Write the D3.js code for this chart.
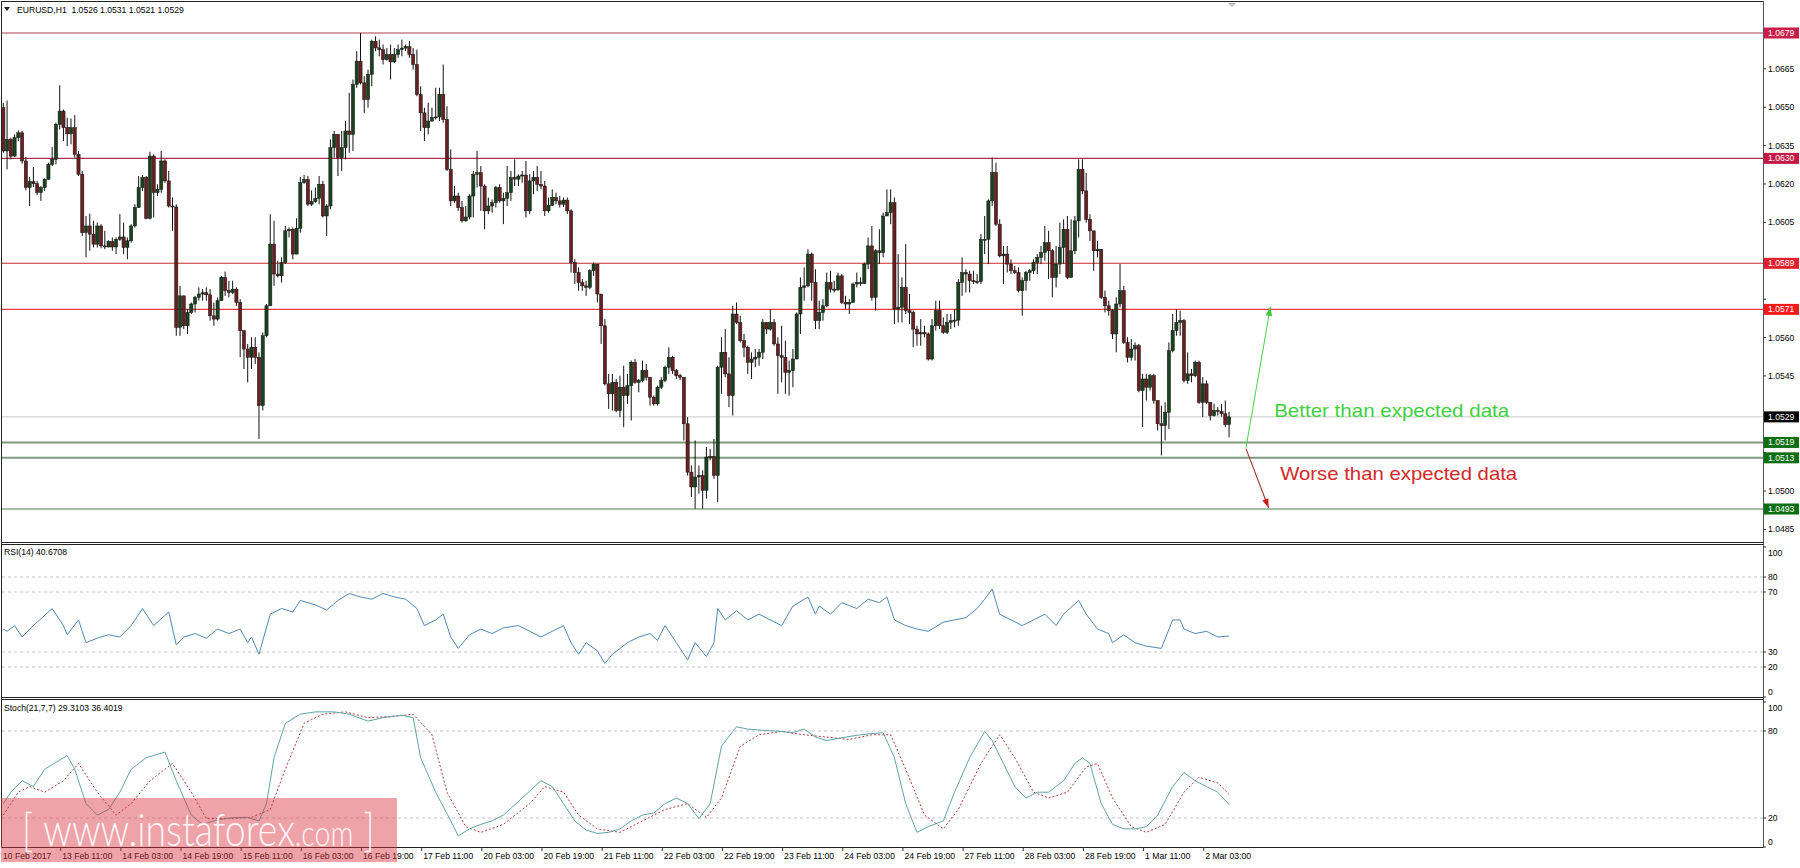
<!DOCTYPE html>
<html><head><meta charset="utf-8">
<script src="https://cdn.jsdelivr.net/npm/d3@7/dist/d3.min.js"></script>
<style>html,body{margin:0;padding:0;background:#fff;overflow:hidden}</style>
</head><body><svg id="c" width="1800" height="868" xmlns="http://www.w3.org/2000/svg"></svg>
<script>
// ---------------- DATA ----------------
const symbolTitle = "EURUSD,H1  1.0526 1.0531 1.0521 1.0529";
const rsiTitle = "RSI(14) 40.6708";
const stochTitle = "Stoch(21,7,7) 29.3103 36.4019";
const firstOpen = 1.06498;
const closes = [1.06329,1.06374,1.06309,1.06381,1.06400,1.06290,1.06186,1.06209,1.06201,1.06166,
1.06186,1.06218,1.06277,1.06296,1.06433,1.06485,1.06420,1.06396,1.06420,1.06316,
1.06238,1.06010,1.06036,1.06004,1.05965,1.06036,1.05958,1.05954,1.05975,1.05954,
1.05984,1.05993,1.05952,1.05978,1.06036,1.06108,1.06186,1.06225,1.06066,1.06309,
1.06166,1.06179,1.06290,1.06212,1.06114,1.06110,1.05640,1.05763,1.05646,1.05698,
1.05731,1.05757,1.05770,1.05775,1.05767,1.05685,1.05672,1.05744,1.05835,1.05783,
1.05776,1.05789,1.05737,1.05627,1.05555,1.05523,1.05562,1.05523,1.05334,1.05607,
1.05724,1.05965,1.05848,1.05841,1.05893,1.06017,1.06023,1.05926,1.06027,1.06205,
1.06218,1.06121,1.06131,1.06144,1.06199,1.06075,1.06114,1.06342,1.06394,1.06303,
1.06342,1.06407,1.06394,1.06589,1.06680,1.06595,1.06530,1.06628,1.06758,1.06732,
1.06725,1.06686,1.06706,1.06677,1.06706,1.06725,1.06731,1.06737,1.06706,1.06667,
1.06550,1.06478,1.06420,1.06446,1.06459,1.06462,1.06550,1.06452,1.06257,1.06134,
1.06153,1.06108,1.06056,1.06071,1.06153,1.06238,1.06244,1.06192,1.06095,1.06114,
1.06127,1.06186,1.06134,1.06144,1.06166,1.06225,1.06219,1.06231,1.06235,1.06095,
1.06212,1.06225,1.06199,1.06192,1.06095,1.06117,1.06147,1.06134,1.06121,1.06137,
1.06095,1.05893,1.05854,1.05815,1.05802,1.05796,1.05861,1.05887,1.05770,1.05646,
1.05419,1.05380,1.05425,1.05315,1.05406,1.05373,1.05412,1.05503,1.05425,1.05432,
1.05471,1.05445,1.05367,1.05341,1.05406,1.05432,1.05484,1.05523,1.05471,1.05451,
1.05445,1.05263,1.05074,1.05016,1.05055,1.05061,1.05003,1.05133,1.05135,1.05061,
1.05484,1.05542,1.05458,1.05373,1.05692,1.05659,1.05588,1.05562,1.05503,1.05516,
1.05523,1.05542,1.05659,1.05633,1.05659,1.05575,1.05529,1.05523,1.05464,1.05471,
1.05516,1.05692,1.05796,1.05802,1.05926,1.05815,1.05666,1.05698,1.05724,1.05815,
1.05789,1.05786,1.05841,1.05737,1.05731,1.05737,1.05809,1.05815,1.05811,1.05887,
1.05958,1.05757,1.05939,1.05932,1.06075,1.06088,1.06127,1.05711,1.05718,1.05796,
1.05705,1.05698,1.05633,1.05614,1.05620,1.05614,1.05516,1.05646,1.05705,1.05646,
1.05620,1.05659,1.05666,1.05668,1.05815,1.05854,1.05848,1.05822,1.05818,1.05819,
1.05984,1.05984,1.06134,1.06244,1.06043,1.05919,1.05926,1.05887,1.05861,1.05854,
1.05783,1.05822,1.05854,1.05861,1.05893,1.05913,1.05932,1.05971,1.05939,1.05835,
1.05887,1.05952,1.06023,1.05835,1.05939,1.06056,1.06257,1.06173,1.06062,1.06017,
1.05939,1.05945,1.05757,1.05724,1.05705,1.05614,1.05731,1.05783,1.05581,1.05523,
1.05555,1.05568,1.05393,1.05438,1.05406,1.05451,1.05354,1.05263,1.05256,1.05308,
1.05549,1.05627,1.05659,1.05666,1.05432,1.05458,1.05451,1.05503,1.05347,1.05419,
1.05347,1.05295,1.05315,1.05311,1.05302,1.05260,1.05290];
const highs = [1.06517,1.06526,1.06381,1.06394,1.06409,1.06407,1.06305,1.06227,1.06266,1.06212,
1.06192,1.06222,1.06283,1.06344,1.06439,1.06586,1.06491,1.06459,1.06456,1.06469,
1.06329,1.06251,1.06075,1.06084,1.06056,1.06049,1.06043,1.06017,1.05980,1.05991,
1.05991,1.06082,1.06049,1.05991,1.06043,1.06121,1.06231,1.06235,1.06231,1.06326,
1.06316,1.06199,1.06329,1.06296,1.06251,1.06147,1.06121,1.05802,1.05763,1.05711,
1.05737,1.05763,1.05796,1.05789,1.05796,1.05789,1.05737,1.05757,1.05841,1.05858,
1.05822,1.05822,1.05796,1.05750,1.05627,1.05575,1.05601,1.05601,1.05542,1.05620,
1.05731,1.06082,1.06056,1.05900,1.05913,1.06036,1.06030,1.06030,1.06066,1.06227,
1.06235,1.06231,1.06175,1.06186,1.06231,1.06212,1.06121,1.06374,1.06407,1.06394,
1.06407,1.06446,1.06556,1.06608,1.06719,1.06790,1.06621,1.06647,1.06764,1.06777,
1.06764,1.06745,1.06731,1.06745,1.06731,1.06745,1.06764,1.06745,1.06758,1.06731,
1.06725,1.06582,1.06498,1.06517,1.06498,1.06576,1.06576,1.06667,1.06504,1.06335,
1.06192,1.06166,1.06134,1.06114,1.06160,1.06251,1.06329,1.06270,1.06199,1.06147,
1.06140,1.06192,1.06199,1.06166,1.06270,1.06251,1.06296,1.06238,1.06251,1.06290,
1.06238,1.06251,1.06270,1.06251,1.06212,1.06147,1.06179,1.06166,1.06153,1.06147,
1.06147,1.06101,1.05906,1.05874,1.05828,1.05822,1.05867,1.05893,1.05887,1.05770,
1.05672,1.05458,1.05458,1.05438,1.05451,1.05490,1.05458,1.05510,1.05516,1.05438,
1.05510,1.05497,1.05445,1.05373,1.05412,1.05445,1.05490,1.05562,1.05529,1.05477,
1.05458,1.05445,1.05289,1.05100,1.05198,1.05100,1.05081,1.05172,1.05165,1.05204,
1.05490,1.05601,1.05633,1.05523,1.05724,1.05737,1.05685,1.05614,1.05568,1.05542,
1.05555,1.05555,1.05672,1.05659,1.05711,1.05672,1.05601,1.05646,1.05588,1.05510,
1.05555,1.05698,1.05835,1.05874,1.05945,1.05932,1.05867,1.05744,1.05750,1.05854,
1.05861,1.05822,1.05854,1.05848,1.05763,1.05750,1.05815,1.05854,1.05835,1.05893,
1.05991,1.06036,1.05945,1.06023,1.06088,1.06179,1.06179,1.06147,1.05926,1.05835,
1.05965,1.05770,1.05705,1.05646,1.05672,1.05646,1.05620,1.05672,1.05744,1.05744,
1.05679,1.05692,1.05692,1.05711,1.05828,1.05913,1.05867,1.05861,1.05861,1.05848,
1.06004,1.06075,1.06140,1.06303,1.06283,1.06062,1.05958,1.05958,1.05906,1.05880,
1.05874,1.05835,1.05861,1.05867,1.05906,1.05926,1.05958,1.06036,1.06017,1.05945,
1.05958,1.06049,1.06062,1.06075,1.06062,1.06075,1.06296,1.06296,1.06244,1.06082,
1.06017,1.05978,1.05945,1.05783,1.05744,1.05711,1.05757,1.05887,1.05802,1.05601,
1.05594,1.05581,1.05575,1.05458,1.05458,1.05458,1.05458,1.05354,1.05334,1.05347,
1.05581,1.05692,1.05711,1.05705,1.05672,1.05542,1.05477,1.05510,1.05510,1.05445,
1.05432,1.05347,1.05341,1.05328,1.05341,1.05354,1.05310];
const lows = [1.06322,1.06257,1.06296,1.06305,1.06368,1.06279,1.06175,1.06114,1.06188,1.06157,
1.06134,1.06173,1.06218,1.06270,1.06277,1.06413,1.06368,1.06348,1.06355,1.06303,
1.06231,1.05997,1.05913,1.05939,1.05952,1.05952,1.05949,1.05945,1.05952,1.05939,
1.05926,1.05978,1.05926,1.05906,1.05971,1.06030,1.06108,1.06173,1.06062,1.06062,
1.06069,1.06153,1.06166,1.06205,1.06108,1.06017,1.05607,1.05607,1.05633,1.05614,
1.05692,1.05698,1.05744,1.05744,1.05744,1.05666,1.05646,1.05666,1.05744,1.05763,
1.05757,1.05770,1.05724,1.05523,1.05477,1.05425,1.05477,1.05497,1.05204,1.05315,
1.05601,1.05724,1.05802,1.05835,1.05815,1.05887,1.05991,1.05906,1.05926,1.06010,
1.06201,1.06114,1.06114,1.06127,1.06121,1.06069,1.05997,1.06101,1.06303,1.06231,
1.06251,1.06296,1.06322,1.06329,1.06576,1.06589,1.06478,1.06498,1.06582,1.06719,
1.06699,1.06667,1.06682,1.06608,1.06673,1.06693,1.06699,1.06719,1.06693,1.06647,
1.06543,1.06407,1.06368,1.06394,1.06443,1.06452,1.06446,1.06439,1.06251,1.06114,
1.06127,1.06095,1.06049,1.06053,1.06062,1.06069,1.06186,1.06095,1.06023,1.06082,
1.06088,1.06108,1.06127,1.06043,1.06114,1.06134,1.06192,1.06192,1.06205,1.06069,
1.06082,1.06160,1.06173,1.06179,1.06075,1.06088,1.06114,1.06121,1.06108,1.06110,
1.06082,1.05854,1.05809,1.05783,1.05783,1.05763,1.05789,1.05841,1.05737,1.05575,
1.05412,1.05321,1.05315,1.05308,1.05289,1.05250,1.05341,1.05276,1.05419,1.05386,
1.05425,1.05432,1.05334,1.05334,1.05334,1.05399,1.05425,1.05458,1.05458,1.05438,
1.05434,1.05198,1.05061,1.04977,1.04931,1.04990,1.04931,1.04970,1.05120,1.05048,
1.04957,1.05380,1.05445,1.05328,1.05295,1.05653,1.05581,1.05523,1.05458,1.05438,
1.05484,1.05490,1.05516,1.05614,1.05627,1.05568,1.05380,1.05425,1.05380,1.05373,
1.05406,1.05516,1.05614,1.05744,1.05796,1.05744,1.05633,1.05633,1.05666,1.05718,
1.05776,1.05776,1.05783,1.05731,1.05711,1.05692,1.05737,1.05796,1.05802,1.05809,
1.05867,1.05744,1.05705,1.05887,1.05913,1.06075,1.06043,1.05653,1.05659,1.05659,
1.05692,1.05653,1.05562,1.05568,1.05568,1.05601,1.05510,1.05510,1.05627,1.05633,
1.05614,1.05614,1.05633,1.05640,1.05646,1.05763,1.05776,1.05776,1.05809,1.05809,
1.05809,1.05926,1.05887,1.06114,1.06036,1.05913,1.05809,1.05854,1.05848,1.05848,
1.05776,1.05685,1.05783,1.05822,1.05848,1.05848,1.05887,1.05900,1.05828,1.05757,
1.05796,1.05848,1.05887,1.05828,1.05835,1.05926,1.05991,1.06160,1.06049,1.05978,
1.05861,1.05913,1.05750,1.05698,1.05685,1.05594,1.05542,1.05718,1.05575,1.05503,
1.05510,1.05510,1.05386,1.05250,1.05354,1.05393,1.05341,1.05237,1.05139,1.05198,
1.05243,1.05542,1.05607,1.05607,1.05425,1.05419,1.05425,1.05445,1.05341,1.05289,
1.05341,1.05276,1.05291,1.05295,1.05291,1.05250,1.05210];

const firstTimeLabel = "10 Feb 2017";
const timeLabels = ["13 Feb 11:00","14 Feb 03:00","14 Feb 19:00","15 Feb 11:00","16 Feb 03:00",
"16 Feb 19:00","17 Feb 11:00","20 Feb 03:00","20 Feb 19:00","21 Feb 11:00","22 Feb 03:00",
"22 Feb 19:00","23 Feb 11:00","24 Feb 03:00","24 Feb 19:00","27 Feb 11:00","28 Feb 03:00",
"28 Feb 19:00","1 Mar 11:00","2 Mar 03:00"];
const firstLabelBar = 15, barsPerLabel = 16;

const priceTicks = [1.0485,1.0500,1.0515,1.0530,1.0545,1.0560,1.0575,1.0590,1.0605,1.0620,1.0635,1.0650,1.0665,1.0680];
const resistanceLevels = [1.0679, 1.0630, 1.0589, 1.0571];
const supportLevels = [1.0519, 1.0513, 1.0493];
const lastPrice = 1.0529;

const rsiLevels = [80, 70, 30, 20];
const rsiTickLabels = [100, 80, 70, 30, 20, 0];
const stochLevels = [80, 20];
const stochTickLabels = [100, 80, 20, 0];

const rsiBars = [0,1,3,5,8,13,16,17,20,22,25,28,31,34,37,40,44,46,48,51,54,57,60,63,65,66,68,71,74,77,79,83,86,89,92,95,98,101,104,107,110,112,115,117,119,121,124,127,130,133,137,140,143,146,149,151,153,155,158,160,162,166,169,172,174,176,179,182,184,187,189,190,192,195,198,201,204,207,210,214,216,217,220,223,227,230,233,235,237,240,243,246,250,253,256,259,261,263,265,268,271,274,277,280,282,286,288,291,294,295,298,301,304,308,311,313,314,317,320,323,326];
const rsiValues = [45.3,43.8,47.6,40.0,47.6,59.0,47.6,41.5,51.4,36.2,39.2,41.5,40.0,47.6,59.0,47.6,56.7,34.7,40.0,42.3,39.2,45.3,42.3,45.3,36.2,40.0,28.5,55.2,59.0,56.7,64.4,61.4,58.0,64.4,69.0,66.7,65.2,69.0,66.7,65.2,59.0,47.6,51.4,55.2,40.0,32.4,41.5,45.3,42.3,46.1,47.6,43.8,40.0,43.8,47.6,36.2,28.5,36.2,30.8,22.4,28.5,36.2,40.0,42.3,37.7,47.6,36.2,24.7,36.2,27.0,36.2,59.0,51.4,57.5,51.4,55.2,51.4,47.6,60.6,66.7,55.2,60.6,55.2,62.9,59.0,65.2,62.9,66.7,51.4,47.6,45.3,43.8,49.9,51.4,52.9,59.0,65.2,72.0,55.2,51.4,47.6,51.4,55.2,47.6,55.2,64.4,55.2,45.3,42.3,36.2,41.5,36.2,33.9,32.4,51.4,51.4,45.3,42.3,43.8,40.0,40.67];

const stochBars = [0,2,5,8,11,17,19,22,25,28,31,34,38,43,46,50,53,56,59,62,65,68,70,72,75,79,83,88,92,97,101,106,109,111,115,119,121,124,127,130,133,138,143,146,149,152,155,158,161,164,167,170,173,176,179,182,185,188,191,195,198,202,207,210,213,216,219,224,228,234,237,240,243,246,250,253,257,261,263,266,269,272,275,278,282,285,287,289,292,295,298,301,304,307,311,314,317,320,323,326];
const stochMain = [29.9,37.8,45.7,41.7,53.6,63.1,53.6,29.9,22.0,25.9,37.8,53.6,61.6,65.5,45.7,22.0,15.6,18.0,19.6,20.4,20.4,18.0,29.9,61.6,85.3,91.6,93.2,93.2,91.6,86.8,89.2,90.8,89.2,61.6,37.8,18.0,7.7,12.5,15.6,18.0,22.0,33.8,45.7,41.7,29.9,18.0,11.7,9.3,10.1,12.5,18.0,22.0,23.5,29.9,33.8,29.9,19.6,29.9,69.5,82.9,81.3,80.5,79.7,78.9,81.3,75.8,73.4,75.8,77.4,78.9,61.6,29.9,10.1,14.0,18.0,37.8,61.6,79.7,73.4,57.6,41.7,33.8,37.8,37.8,45.7,57.6,61.6,57.6,29.9,15.6,12.5,12.5,14.0,22.0,41.7,51.3,45.7,41.7,37.8,29.31];
const signalBars = [0,4,7,11,16,20,25,30,34,39,45,50,54,60,66,71,75,80,85,91,97,103,109,114,118,123,127,133,140,144,149,153,158,164,170,176,182,187,191,196,201,207,213,219,225,231,236,240,245,250,254,260,265,269,274,278,283,288,291,295,300,304,309,314,318,323,326];
const stochSignal = [22.0,37.8,41.7,37.8,45.7,57.6,37.8,22.0,29.9,45.7,57.6,37.8,19.6,19.6,20.4,25.9,53.6,85.3,91.6,93.2,89.2,90.0,91.6,77.4,37.8,14.0,10.1,15.6,29.9,41.7,37.8,22.0,12.5,10.1,18.0,25.9,29.9,20.4,33.8,69.5,77.4,79.7,77.4,75.8,74.2,77.4,77.4,53.6,22.0,12.5,25.9,57.6,77.4,61.6,37.8,33.8,37.8,55.2,57.6,33.8,14.0,10.1,15.6,37.8,48.1,44.1,36.40];

const annotations = ["Better than expected data", "Worse than expected data"];
const watermarkParts = ["[ ", "www.instaforex", ".com", " ]"];

// ---------------- DRAW ----------------
const svg = d3.select('#c');
const W = 1800, H = 868, axisX = 1763;
const mainTop = 2, mainBot = 542, rsiTop = 545, rsiBot = 697, stTop = 700, stBot = 847;
const n = closes.length;
const opens = closes.map((c, i) => i === 0 ? firstOpen : closes[i - 1]);

const x = d3.scaleLinear().domain([0, n - 1]).range([3.3, 3.3 + 3.76 * (n - 1)]);
const yP = d3.scaleLinear().domain([1.0493, 1.0679]).range([509, 33]);
const yR = d3.scaleLinear().domain([0, 100]).range([697, 547]);
const yS = d3.scaleLinear().domain([0, 100]).range([847, 702]);

svg.append('rect').attr('width', W).attr('height', H).attr('fill', '#fff');
const defs = svg.append('defs');
[['clipMain', mainTop, mainBot], ['clipRsi', rsiTop, rsiBot], ['clipSt', stTop, stBot]].forEach(([id, t, b]) => {
  defs.append('clipPath').attr('id', id).append('rect').attr('x', 2).attr('y', t).attr('width', axisX - 2).attr('height', b - t);
});
const FONT = '"Liberation Sans", Arial, sans-serif';

// ---- main panel
const gMain = svg.append('g').attr('clip-path', 'url(#clipMain)');
const resColors = ['#b03a55', '#a83048', '#cc2a2a', '#e8393b'];
const supColors = ['#7e9a7e', '#7e9a7e', '#4d7f4d'];
const supWidths = [2, 2, 1.2];
gMain.append('line').attr('x1', 2).attr('x2', axisX).attr('y1', yP(lastPrice)).attr('y2', yP(lastPrice)).attr('stroke', '#c8c8c8').attr('stroke-width', 1);
resistanceLevels.forEach((p, i) => gMain.append('line').attr('x1', 2).attr('x2', axisX).attr('y1', yP(p)).attr('y2', yP(p)).attr('stroke', resColors[i]).attr('stroke-width', 1.1));
supportLevels.forEach((p, i) => gMain.append('line').attr('x1', 2).attr('x2', axisX).attr('y1', yP(p)).attr('y2', yP(p)).attr('stroke', supColors[i]).attr('stroke-width', supWidths[i]));

const idx = d3.range(n);
gMain.append('g').selectAll('line').data(idx).join('line')
  .attr('x1', i => x(i)).attr('x2', i => x(i))
  .attr('y1', i => yP(Math.max(highs[i], opens[i], closes[i])))
  .attr('y2', i => yP(Math.min(lows[i], opens[i], closes[i])))
  .attr('stroke', '#111').attr('stroke-width', 1);
gMain.append('g').selectAll('rect').data(idx).join('rect')
  .attr('x', i => x(i) - 1.6).attr('width', 3.2)
  .attr('y', i => yP(Math.max(opens[i], closes[i])))
  .attr('height', i => Math.max(1, Math.abs(yP(opens[i]) - yP(closes[i]))))
  .attr('fill', i => closes[i] >= opens[i] ? '#1b421e' : '#6a2020')
  .attr('stroke', '#111').attr('stroke-width', 0.5);

// arrows
const arrowStart = { i: n - 1 + 4.5, p: 1.0517 };
const up = { i: n - 1 + 11, p: 1.0572 };
const dn = { i: n - 1 + 10.5, p: 1.04935 };
function arrow(g, x1, y1, x2, y2, color, headColor) {
  g.append('line').attr('x1', x1).attr('y1', y1).attr('x2', x2).attr('y2', y2).attr('stroke', color).attr('stroke-width', 1.1);
  const a = Math.atan2(y2 - y1, x2 - x1), L = 9, w = 3.2;
  const bx = x2 - L * Math.cos(a), by = y2 - L * Math.sin(a);
  const pts = [[x2, y2], [bx + w * Math.sin(a), by - w * Math.cos(a)], [bx - w * Math.sin(a), by + w * Math.cos(a)]];
  g.append('polygon').attr('points', pts.map(p => p.join(',')).join(' ')).attr('fill', headColor);
}
const sx = x(arrowStart.i), sy = yP(arrowStart.p);
arrow(gMain, sx, sy, x(up.i), yP(up.p), '#5ad45a', '#3ec83e');
arrow(gMain, sx, sy + 1, x(dn.i), yP(dn.p), '#9a3a2a', '#d01818');
gMain.append('text').attr('x', x(n - 1 + 12)).attr('y', 417).text(annotations[0])
  .attr('font-family', FONT).attr('font-size', 18.5).attr('fill', '#3fd13f').attr('textLength', 235).attr('lengthAdjust', 'spacingAndGlyphs');
gMain.append('text').attr('x', x(n - 1 + 13.6)).attr('y', 480).text(annotations[1])
  .attr('font-family', FONT).attr('font-size', 18.5).attr('fill', '#d42828').attr('textLength', 237).attr('lengthAdjust', 'spacingAndGlyphs');

// header
svg.append('polygon').attr('points', '4,7 10,7 7,11').attr('fill', '#222');
svg.append('text').attr('x', 17).attr('y', 12.5).text(symbolTitle).attr('font-family', FONT).attr('font-size', 8.6).attr('fill', '#000').style('white-space', 'pre');
svg.append('polygon').attr('points', '1228,3 1236,3 1232,7').attr('fill', '#bbb');

// ---- RSI panel
const gR = svg.append('g').attr('clip-path', 'url(#clipRsi)');
rsiLevels.forEach(v => gR.append('line').attr('x1', 2).attr('x2', axisX).attr('y1', yR(v)).attr('y2', yR(v)).attr('stroke', '#c4c4c4').attr('stroke-dasharray', '3,3'));
gR.append('path').datum(rsiBars.map((b, k) => [b, rsiValues[k]]))
  .attr('d', d3.line().x(d => x(d[0])).y(d => yR(d[1])))
  .attr('fill', 'none').attr('stroke', '#4f88b4').attr('stroke-width', 1);
svg.append('text').attr('x', 4).attr('y', 555).text(rsiTitle).attr('font-family', FONT).attr('font-size', 8.6).attr('fill', '#000');

// ---- Stoch panel
const gS = svg.append('g').attr('clip-path', 'url(#clipSt)');
stochLevels.forEach(v => gS.append('line').attr('x1', 2).attr('x2', axisX).attr('y1', yS(v)).attr('y2', yS(v)).attr('stroke', '#c4c4c4').attr('stroke-dasharray', '3,3'));
gS.append('path').datum(signalBars.map((b, k) => [b, stochSignal[k]]))
  .attr('d', d3.line().x(d => x(d[0])).y(d => yS(d[1])))
  .attr('fill', 'none').attr('stroke', '#b03838').attr('stroke-width', 1).attr('stroke-dasharray', '2,2');
gS.append('path').datum(stochBars.map((b, k) => [b, stochMain[k]]))
  .attr('d', d3.line().x(d => x(d[0])).y(d => yS(d[1])))
  .attr('fill', 'none').attr('stroke', '#5fa3a8').attr('stroke-width', 1);
svg.append('text').attr('x', 4).attr('y', 711).text(stochTitle).attr('font-family', FONT).attr('font-size', 8.6).attr('fill', '#000');

// ---- frames
const frame = svg.append('g').attr('stroke', '#222').attr('fill', 'none');
frame.append('line').attr('x1', 1.5).attr('x2', 1.5).attr('y1', 1.5).attr('y2', stBot + 0.5);
frame.append('line').attr('x1', axisX + 0.5).attr('x2', axisX + 0.5).attr('y1', 1.5).attr('y2', stBot + 0.5).attr('stroke', '#555');
frame.append('line').attr('x1', 1.5).attr('x2', axisX + 0.5).attr('y1', 1.5).attr('y2', 1.5);
[mainBot + 0.5, rsiTop - 0.5, rsiBot + 0.5, stTop - 0.5, stBot + 0.5].forEach(yy =>
  frame.append('line').attr('x1', 1.5).attr('x2', axisX + 0.5).attr('y1', yy).attr('y2', yy));

// ---- right axis: price
const ax = svg.append('g').attr('font-family', FONT).attr('font-size', 8.6);
const boxed = resistanceLevels.concat(supportLevels, [lastPrice]);
priceTicks.forEach(p => {
  const yy = yP(p);
  if (yy < mainTop + 4 || yy > mainBot - 4) return;
  ax.append('line').attr('x1', axisX).attr('x2', axisX + 3).attr('y1', yy).attr('y2', yy).attr('stroke', '#333');
  const hidden = boxed.some(b => Math.abs(yP(b) - yy) < 11);
  if (!hidden) ax.append('text').attr('x', axisX + 5).attr('y', yy + 3).text(p.toFixed(4)).attr('fill', '#000');
});
function priceBox(p, bg) {
  const yy = yP(p);
  ax.append('rect').attr('x', axisX + 1).attr('y', yy - 5.5).attr('width', 35).attr('height', 11).attr('fill', bg);
  ax.append('text').attr('x', axisX + 5).attr('y', yy + 3).text(p.toFixed(4)).attr('fill', '#fff');
}
const resBoxColors = ['#c81e4a', '#c41a45', '#e0202c', '#f21c1c'];
resistanceLevels.forEach((p, i) => priceBox(p, resBoxColors[i]));
priceBox(lastPrice, '#000');
supportLevels.forEach(p => priceBox(p, '#0d6e12'));

// RSI / Stoch axis labels
function subTicks(vals, scale, top, bot) {
  vals.forEach(v => {
    const yy = scale(v);
    ax.append('line').attr('x1', axisX).attr('x2', axisX + 3).attr('y1', yy).attr('y2', yy).attr('stroke', '#333');
    const ty = Math.min(Math.max(yy, top + 6), bot - 5);
    ax.append('text').attr('x', axisX + 5).attr('y', ty + 3).text(v).attr('fill', '#000');
  });
}
subTicks(rsiTickLabels, yR, rsiTop + 2, rsiBot);
subTicks(stochTickLabels, yS, stTop + 2, stBot);

// ---- time axis
const tx = svg.append('g').attr('font-family', FONT).attr('font-size', 8.6);
tx.append('text').attr('x', 3).attr('y', 859).text(firstTimeLabel).attr('fill', '#000');
timeLabels.forEach((lab, k) => {
  const xx = x(firstLabelBar + k * barsPerLabel) + 1;
  tx.append('line').attr('x1', xx).attr('x2', xx).attr('y1', stBot).attr('y2', stBot + 4).attr('stroke', '#333');
  tx.append('text').attr('x', xx + 1.5).attr('y', 859).text(lab).attr('fill', '#000');
});

// ---- watermark
const wm = svg.append('g');
wm.append('rect').attr('x', 1).attr('y', 798).attr('width', 396).attr('height', 64).attr('fill', 'rgb(214,52,62)').attr('fill-opacity', 0.45);
const wmText = wm.append('text').attr('font-family', 'Lato, "Open Sans", sans-serif').attr('font-weight', 300)
  .attr('fill', '#fff').attr('fill-opacity', 0.92).style('white-space', 'pre');
const wmSizes = [46, 46, 35, 46];
watermarkParts.forEach((s, k) => wmText.append('tspan').attr('font-size', wmSizes[k]).text(s));
const wmW = wmText.node().getComputedTextLength();
wmText.attr('transform', `translate(22,846) scale(${(352 / wmW).toFixed(4)},1)`);
</script></body></html>
